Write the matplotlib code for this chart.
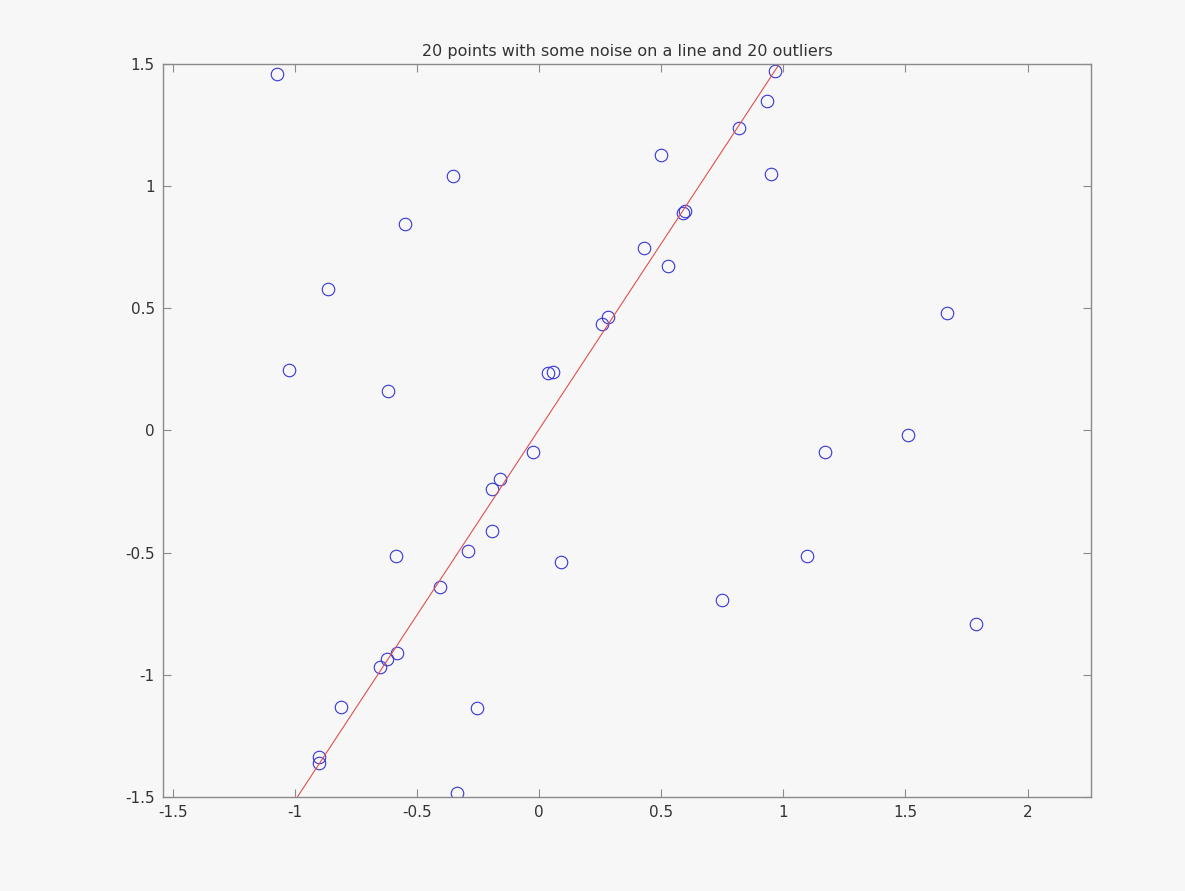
# Recreate the "line with noise plus outliers" scatter plot
import numpy as np
import matplotlib.pyplot as plt

# Points
x_pts = [-1.072, -0.352, -0.549, -0.864, -1.023, -0.618,
         0.499, 0.950, 0.528, -0.585, 0.090, -0.254, -0.336,
         1.670, 1.510, 1.170, 1.097, 0.749, 1.789, -0.192, -0.810,
         0.966, 0.933, 0.820, 0.590, 0.598, 0.430, 0.284, 0.258,
         0.057, 0.037, -0.025, -0.160, -0.192, -0.290, -0.405,
         -0.580, -0.622, -0.651, -0.900, -0.900]
y_pts = [1.457, 1.040, 0.847, 0.581, 0.246, 0.160,
         1.126, 1.048, 0.672, -0.512, -0.540, -1.134, -1.482,
         0.479, -0.020, -0.086, -0.512, -0.692, -0.794, -0.413, -1.130,
         1.470, 1.347, 1.236, 0.892, 0.900, 0.745, 0.463, 0.434,
         0.241, 0.237, -0.086, -0.200, -0.241, -0.495, -0.639,
         -0.909, -0.937, -0.970, -1.335, -1.359]

# Fitted line y = slope * x + intercept
slope = 1.52
intercept = 0.005

x_ticks = [-1.5, -1, -0.5, 0, 0.5, 1, 1.5, 2]
x_tick_labels = ["-1.5", "-1", "-0.5", "0", "0.5", "1", "1.5", "2"]
y_ticks = [-1.5, -1, -0.5, 0, 0.5, 1, 1.5]
y_tick_labels = ["-1.5", "-1", "-0.5", "0", "0.5", "1", "1.5"]

bg = "#f7f7f7"
fig = plt.figure(figsize=(11.85, 8.91), dpi=100, facecolor=bg)
ax = fig.add_axes([0.1376, 0.1055, 0.7831, 0.8227], facecolor=bg)

ax.plot(x_pts, y_pts, "o", markersize=9, markerfacecolor="none",
        markeredgecolor="#3535d8", markeredgewidth=0.8, linestyle="none")

xl = np.array([-1.54, 2.26])
ax.plot(xl, slope * xl + intercept, color="#e05050", linewidth=0.8)

ax.set_xlim(-1.54, 2.26)
ax.set_ylim(-1.5, 1.5)
ax.set_xticks(x_ticks)
ax.set_xticklabels(x_tick_labels)
ax.set_yticks(y_ticks)
ax.set_yticklabels(y_tick_labels)

for s in ax.spines.values():
    s.set_color("#8a8a8a")
    s.set_linewidth(1.0)
ax.tick_params(direction="in", length=6, width=0.8, color="#8a8a8a",
               top=True, right=True, labelsize=11, labelcolor="#333333", pad=6)

ax.set_title("20 points with some noise on a line and 20 outliers",
             fontsize=11.5, color="#333333", pad=6)

plt.savefig("out.png", dpi=100, facecolor=bg)
